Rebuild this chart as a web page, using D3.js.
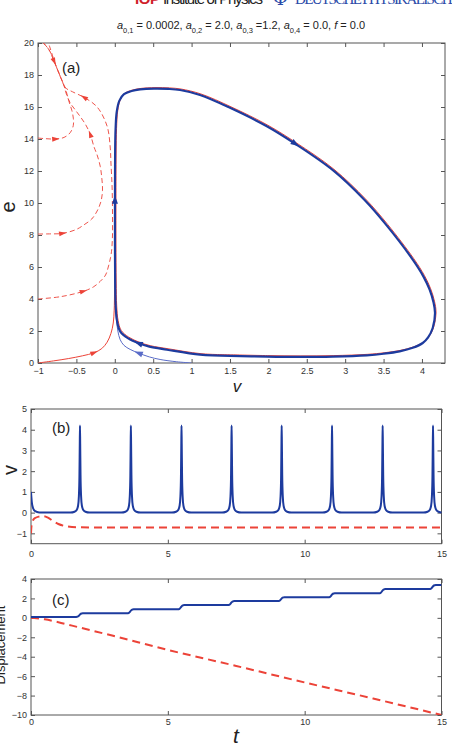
<!DOCTYPE html>
<html>
<head>
<meta charset="utf-8">
<script src="https://cdn.jsdelivr.net/npm/d3@7"></script>
<style>
  body { margin: 0; background: #fff; }
  svg { display: block; font-family: "Liberation Sans", Arial, sans-serif; }
</style>
</head>
<body>
<div id="chart"></div>
<script>
// ---------- data: panel (a), phase plane (v, e) ----------
var aTicksX = [-1, -0.5, 0, 0.5, 1, 1.5, 2, 2.5, 3, 3.5, 4];
var aTicksY = [0, 2, 4, 6, 8, 10, 12, 14, 16, 18, 20];

var limitCycle = [[1.50,0.45],[1.11,0.52],[0.68,0.83],[0.45,1.02],[0.31,1.23],[0.17,1.55],[0.07,1.98],
  [0.03,2.6],[0.012,3.5],[0.005,5],[0.002,7.5],[0.002,10.2],[0.004,13],[0.01,14.6],[0.025,15.7],
  [0.06,16.4],[0.12,16.8],[0.22,17.0],[0.33,17.1],[0.51,17.15],[0.7,17.13],[0.85,17.06],
  [1.11,16.75],[1.5,15.95],[1.98,14.8],[2.35,13.7],[2.84,12.05],[3.25,10.2],[3.54,8.6],
  [3.88,6.46],[4.02,5.4],[4.10,4.58],[4.15,3.8],[4.17,3.12],[4.14,2.19],[4.08,1.6],[4.01,1.25],
  [3.88,0.95],[3.71,0.73],[3.5,0.58],[3.28,0.48],[2.84,0.40],[2.4,0.38],[1.98,0.40],[1.50,0.45]];
var redStart = [[-1,0],[-0.8,0.13],[-0.6,0.28],[-0.42,0.45],[-0.27,0.64],[-0.17,0.9],[-0.10,1.3],
  [-0.05,1.85],[-0.02,2.5],[-0.008,3.3],[-0.003,4.5],[0,6]];
var blueStart = [[1,0],[0.8,0.08],[0.59,0.22],[0.45,0.38],[0.31,0.62],[0.2,0.85],[0.12,1.1],
  [0.07,1.46],[0.04,2.0],[0.02,2.8],[0.008,4],[0.004,5.5]];
var dashed4 = [[-1,4.0],[-0.7,4.15],[-0.41,4.48],[-0.28,4.75],[-0.19,5.1],[-0.12,5.5],[-0.085,6.0],
  [-0.055,6.6],[-0.04,7.1],[-0.03,8],[-0.03,9.5],[-0.035,11],[-0.05,12.5],[-0.06,13.5],[-0.10,14.8],
  [-0.23,16.0],[-0.40,16.6],[-0.55,16.95],[-0.64,17.2],[-0.70,17.8],[-0.79,18.85],[-0.86,19.6],[-0.97,20.2]];
var dashed8 = [[-1,8.06],[-0.85,8.07],[-0.68,8.1],[-0.5,8.35],[-0.40,8.64],[-0.30,9.0],[-0.23,9.5],
  [-0.18,10.1],[-0.16,10.8],[-0.17,11.6],[-0.19,12.3],[-0.23,13.0],[-0.27,13.5],[-0.32,14.3],
  [-0.38,14.9],[-0.45,15.4],[-0.52,15.85],[-0.58,16.25],[-0.63,16.8],[-0.66,17.3],[-0.71,17.9],
  [-0.76,18.5],[-0.81,19.2],[-0.85,19.8],[-0.88,20.2]];
var dashed14 = [[-1,14.06],[-0.9,14.02],[-0.77,14.0],[-0.66,14.1],[-0.58,14.4],[-0.54,14.85],
  [-0.54,15.3],[-0.56,15.8],[-0.6,16.4],[-0.64,17.1],[-0.70,17.8],[-0.79,18.85],[-0.86,19.6],[-0.97,20.2]];

// arrowheads: which line, which point, reversed or not
var arrowMarks = [
  {line: "cycle", i: 4}, {line: "cycle", i: 11}, {line: "cycle", i: 25},
  {line: "blueStart", i: 4}, {line: "redStart", i: 4},
  {line: "dashed4", i: 2}, {line: "dashed4", i: 16},
  {line: "dashed8", i: 2}, {line: "dashed8", i: 13},
  {line: "dashed14", i: 2}, {line: "dashed14", i: 11, rev: true}
];

// ---------- data: panel (b), v against t ----------
var tTicks = [0, 5, 10, 15];
var bTicksY = [-1, 0, 1, 2, 3, 4, 5];
var spikeTimes = [1.79, 3.65, 5.5, 7.33, 9.16, 11.0, 12.85, 14.69];
var spikeShape = [[-0.35,0],[-0.2,0.04],[-0.12,0.13],[-0.07,0.33],[-0.04,0.8],[-0.02,1.8],
  [-0.008,3.3],[0,4.2],[0.008,3.3],[0.02,1.8],[0.04,0.8],[0.07,0.33],[0.12,0.13],[0.2,0.04],[0.35,0]];
var vBlueStart = [[0,1.0],[0.03,0.5],[0.08,0.2],[0.15,0.07],[0.3,0.01]];
var vRed = [[0,-1],[0.02,-0.62],[0.07,-0.38],[0.15,-0.26],[0.3,-0.19],[0.45,-0.17],[0.6,-0.23],
  [0.8,-0.4],[1.0,-0.55],[1.3,-0.66],[1.8,-0.71],[3,-0.72],[15,-0.72]];

// ---------- data: panel (c), displacement against t ----------
var cTicksY = [-10, -8, -6, -4, -2, 0, 2, 4];
var stepLevels = [0.1, 0.47, 0.88, 1.32, 1.73, 2.12, 2.53, 2.97, 3.38];
var stepShape = [[-0.14,0],[-0.07,0.12],[-0.02,0.5],[0.03,0.88],[0.1,1]];
var dispRed = [[0,0],[0.2,-0.05],[0.5,-0.15],[1.0,-0.45],[1.5,-0.8],[2,-1.15],[3,-1.85],[5,-3.3],
  [7.5,-4.95],[10,-6.65],[12.5,-8.3],[15,-10]];

// ---------- setup ----------
var W = 452, H = 750;
var navy = "#1d3b9e", thinBlue = "#5a6cc8", red = "#ec4338", axisCol = "#555", txtCol = "#333";
var fmt = d3.format("~g");

var svg = d3.select("#chart").append("svg")
    .attr("width", W)
    .attr("height", H);

// publisher header, cut by the top edge
var head = svg.append("g").attr("font-size", 15);
head.append("text").attr("x", 135).attr("y", 4).attr("textLength", 25)
    .attr("font-weight", "bold").attr("fill", "#d0202a").text("IOP");
head.append("text").attr("x", 163).attr("y", 4).attr("textLength", 100)
    .attr("fill", "#222").text("Institute of Physics");
head.append("text").attr("x", 273).attr("y", 5).attr("font-size", 18)
    .attr("fill", "#2a4aa8").attr("font-family", "DejaVu Serif, serif").text("Φ");
head.append("text").attr("x", 295).attr("y", 4).attr("textLength", 165)
    .attr("font-family", "Liberation Serif, serif").attr("fill", "#2a4aa8")
    .text("DEUTSCHE PHYSIKALISCHE");

// title with subscripts
var titleParts = [["a","i"],["0,1","s"],[" = 0.0002, ",""],["a","i"],["0,2","s"],[" = 2.0, ",""],
  ["a","i"],["0,3","s"],[" =1.2, ",""],["a","i"],["0,4","s"],[" = 0.0, ",""],["f","i"],[" = 0.0",""]];
var title = svg.append("text")
    .attr("x", 241).attr("y", 29)
    .attr("text-anchor", "middle")
    .attr("font-size", 11)
    .attr("fill", "#222");
var prevSub = false;
titleParts.forEach(function(p) {
  var ts = title.append("tspan").text(p[0]);
  if (p[1] === "i") ts.attr("font-style", "italic");
  if (p[1] === "s") { ts.attr("font-size", 7.5).attr("dy", 3.5); prevSub = true; }
  else if (prevSub) { ts.attr("dy", -3.5); prevSub = false; }
});

// generic framed axes, MATLAB style: inward ticks on all sides
function frame(g, x, y, xt, yt, padX, idClip) {
  var x0 = x.range()[0], x1 = x.range()[1], y0 = y.range()[0], y1 = y.range()[1];
  g.append("g").attr("transform", "translate(0," + y0 + ")")
      .call(d3.axisBottom(x).tickValues(xt).tickFormat(fmt).tickSize(-4).tickPadding(padX));
  g.append("g").attr("transform", "translate(0," + y1 + ")")
      .call(d3.axisTop(x).tickValues(xt).tickFormat("").tickSize(-4));
  g.append("g").attr("transform", "translate(" + x0 + ",0)")
      .call(d3.axisLeft(y).tickValues(yt).tickFormat(fmt).tickSize(-4).tickPadding(4));
  g.append("g").attr("transform", "translate(" + x1 + ",0)")
      .call(d3.axisRight(y).tickValues(yt).tickFormat("").tickSize(-4));
  g.selectAll(".domain").remove();
  g.selectAll(".tick line").attr("stroke", axisCol);
  g.selectAll(".tick text").attr("fill", txtCol).attr("font-size", 9)
      .attr("font-family", "Liberation Sans, Arial, sans-serif");
  g.append("rect")
      .attr("x", x0).attr("y", y1)
      .attr("width", x1 - x0).attr("height", y0 - y1)
      .attr("fill", "none").attr("stroke", axisCol).attr("stroke-width", 1);
  svg.append("defs").append("clipPath").attr("id", idClip)
    .append("rect").attr("x", x0).attr("y", y1).attr("width", x1 - x0).attr("height", y0 - y1);
}

///////// panel (a)

var xA = d3.scaleLinear().domain([-1, 4.3]).range([38, 445]);
var yA = d3.scaleLinear().domain([0, 20]).range([363, 43]);
var gA = svg.append("g");
frame(gA, xA, yA, aTicksX, aTicksY, 5, "clipA");

var lineA = d3.line()
    .x(function(d) { return xA(d[0]); })
    .y(function(d) { return yA(d[1]); })
    .curve(d3.curveCatmullRom.alpha(0.5));

var plotA = gA.append("g").attr("clip-path", "url(#clipA)");
var lines = {cycle: limitCycle, redStart: redStart, blueStart: blueStart,
             dashed4: dashed4, dashed8: dashed8, dashed14: dashed14};

[dashed4, dashed8, dashed14].forEach(function(d) {
  plotA.append("path").attr("d", lineA(d))
      .attr("fill", "none").attr("stroke", red).attr("stroke-width", 1)
      .attr("stroke-dasharray", "5,3").attr("opacity", 0.9);
});
plotA.append("path").attr("d", lineA(redStart))
    .attr("fill", "none").attr("stroke", red).attr("stroke-width", 1);
// red trajectory settled on the cycle, drawn just outside the blue
plotA.append("path").attr("d", lineA(limitCycle))
    .attr("transform", "translate(1,-1)")
    .attr("fill", "none").attr("stroke", red).attr("stroke-width", 1);
plotA.append("path").attr("d", lineA(blueStart))
    .attr("fill", "none").attr("stroke", thinBlue).attr("stroke-width", 1);
plotA.append("path").attr("d", lineA(limitCycle))
    .attr("fill", "none").attr("stroke", navy).attr("stroke-width", 2.2);

arrowMarks.forEach(function(a) {
  var pts = lines[a.line];
  var p0 = pts[a.i - 1], p1 = pts[a.i + 1], p = pts[a.i];
  var ang = Math.atan2(yA(p1[1]) - yA(p0[1]), xA(p1[0]) - xA(p0[0])) * 180 / Math.PI;
  if (a.rev) ang += 180;
  var isRed = a.line !== "cycle" && a.line !== "blueStart";
  var col = isRed ? red : (a.line === "cycle" ? navy : thinBlue);
  plotA.append("path")
      .attr("d", isRed ? "M4,0L-3.5,-2.4L-3.5,2.4Z" : "M4.5,0L-4,-3L-4,3Z")
      .attr("transform", "translate(" + xA(p[0]) + "," + yA(p[1]) + ") rotate(" + ang + ")")
      .attr("fill", col);
});

gA.append("text").attr("x", 62).attr("y", 73).attr("font-size", 15).attr("fill", "#222").text("(a)");
gA.append("text").attr("x", 237).attr("y", 392).attr("text-anchor", "middle")
    .attr("font-size", 17).attr("font-style", "italic").attr("fill", "#222").text("v");
gA.append("text").attr("transform", "translate(15,207) rotate(-90)").attr("text-anchor", "middle")
    .attr("font-size", 20).attr("fill", "#222").text("e");

///////// panel (b)

var xB = d3.scaleLinear().domain([0, 15]).range([31, 441.5]);
var yB = d3.scaleLinear().domain([-1.5, 5]).range([543.7, 409]);
var gB = svg.append("g");
frame(gB, xB, yB, tTicks, bTicksY, 7, "clipB");

var vBlue = vBlueStart.slice();
spikeTimes.forEach(function(t) {
  spikeShape.forEach(function(s) { vBlue.push([t + s[0], s[1]]); });
});

var lineB = d3.line()
    .x(function(d) { return xB(d[0]); })
    .y(function(d) { return yB(d[1]); })
    .curve(d3.curveMonotoneX);

var plotB = gB.append("g").attr("clip-path", "url(#clipB)");
plotB.append("path").attr("d", lineB(vRed))
    .attr("fill", "none").attr("stroke", red).attr("stroke-width", 2)
    .attr("stroke-dasharray", "8,5");
plotB.append("path").attr("d", lineB(vBlue))
    .attr("fill", "none").attr("stroke", navy).attr("stroke-width", 2);

gB.append("text").attr("x", 52).attr("y", 433).attr("font-size", 15).attr("fill", "#222").text("(b)");
gB.append("text").attr("transform", "translate(17,470) rotate(-90)").attr("text-anchor", "middle")
    .attr("font-size", 20).attr("fill", "#222").text("v");

///////// panel (c)

var xC = d3.scaleLinear().domain([0, 15]).range([31, 441.5]);
var yC = d3.scaleLinear().domain([-10, 4]).range([715, 579]);
var gC = svg.append("g");
frame(gC, xC, yC, tTicks, cTicksY, 4, "clipC");

var dispBlue = [[0, stepLevels[0]]];
spikeTimes.forEach(function(t, i) {
  var a = stepLevels[i], b = stepLevels[i + 1];
  stepShape.forEach(function(s) { dispBlue.push([t + s[0], a + s[1] * (b - a)]); });
});
dispBlue.push([15, stepLevels[stepLevels.length - 1]]);

var lineC = d3.line()
    .x(function(d) { return xC(d[0]); })
    .y(function(d) { return yC(d[1]); })
    .curve(d3.curveMonotoneX);

var plotC = gC.append("g").attr("clip-path", "url(#clipC)");
plotC.append("path").attr("d", lineC(dispRed))
    .attr("fill", "none").attr("stroke", red).attr("stroke-width", 2)
    .attr("stroke-dasharray", "8,5");
plotC.append("path").attr("d", lineC(dispBlue))
    .attr("fill", "none").attr("stroke", navy).attr("stroke-width", 2);

gC.append("text").attr("x", 52).attr("y", 605).attr("font-size", 15).attr("fill", "#222").text("(c)");
gC.append("text").attr("transform", "translate(5,645) rotate(-90)").attr("text-anchor", "middle")
    .attr("font-size", 13).attr("fill", "#222").text("Displacement");
gC.append("text").attr("x", 236).attr("y", 743).attr("text-anchor", "middle")
    .attr("font-size", 21).attr("font-style", "italic").attr("fill", "#222").text("t");
</script>
</body>
</html>
